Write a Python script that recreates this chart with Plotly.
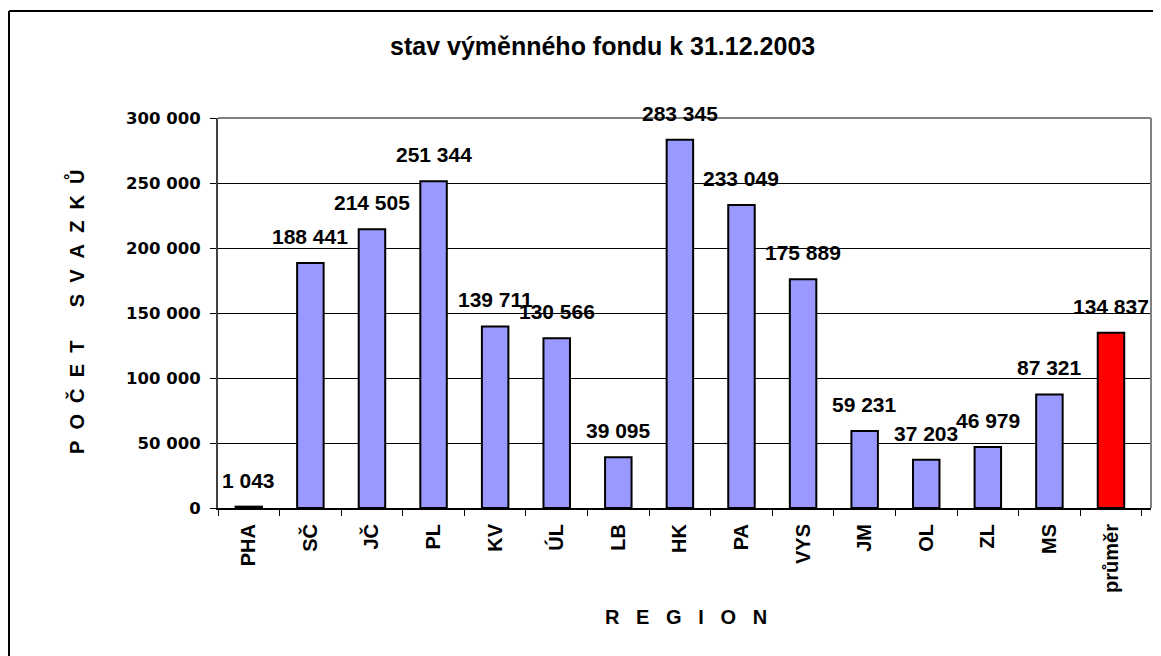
import plotly.graph_objects as go

categories = ["PHA", "SČ", "JČ", "PL", "KV", "ÚL", "LB", "HK", "PA", "VYS", "JM", "OL", "ZL", "MS", "průměr"]
values = [1043, 188441, 214505, 251344, 139711, 130566, 39095, 283345, 233049, 175889, 59231, 37203, 46979, 87321, 134837]
highlight = "průměr"
title_text = "stav výměnného fondu k 31.12.2003"
y_ticks = [0, 50000, 100000, 150000, 200000, 250000, 300000]

# the page body adds an 8px margin, so the figure is drawn 8px smaller and shifted
OFF = 8
W, H = 1161 - OFF, 656 - OFF
L, R, T, B = 218 - OFF, 1151 - OFF, 118 - OFF, 508 - OFF  # plot area in figure pixels

def fmt(v):
    return f"{v:,}".replace(",", " ")

def spaced(s, gap, wordgap):
    words = s.split(" ")
    return ("\u00a0" * wordgap).join(("\u00a0" * gap).join(w) for w in words)

colors = ["#FF0000" if c == highlight else "#9999FF" for c in categories]

fig = go.Figure()
fig.add_trace(go.Bar(
    x=categories, y=values,
    marker=dict(color=colors, line=dict(color="#000000", width=2)),
    showlegend=False, hoverinfo="x+y",
))

for c, v in zip(categories, values):
    fig.add_annotation(
        x=c, y=v, xref="x", yref="y", text=fmt(v), showarrow=False,
        yanchor="bottom", yshift=13,
        font=dict(family="Liberation Sans, Arial", size=21, color="#000000", weight="bold"),
    )

def px_x(p):
    # p in page pixels
    return (p - OFF - L) / (R - L)

def px_y(p):
    return (B - (p - OFF)) / (B - T)

# outer chart border (left and top visible)
fig.add_shape(type="line", xref="paper", yref="paper",
              x0=px_x(9), x1=px_x(9), y0=px_y(11), y1=px_y(700),
              line=dict(color="#000000", width=2))
fig.add_shape(type="line", xref="paper", yref="paper",
              x0=px_x(9), x1=px_x(1157), y0=px_y(11), y1=px_y(11),
              line=dict(color="#000000", width=2))
# plot area border top/right (grey)
fig.add_shape(type="line", xref="paper", yref="paper",
              x0=0, x1=1, y0=1, y1=1, line=dict(color="#808080", width=2))
fig.add_shape(type="line", xref="paper", yref="paper",
              x0=1, x1=1, y0=0, y1=1, line=dict(color="#808080", width=2))

# title
fig.add_annotation(
    text=title_text, xref="paper", yref="paper",
    x=px_x(602), y=px_y(46), xanchor="center", yanchor="middle", showarrow=False,
    font=dict(family="Liberation Sans, Arial", size=25, color="#000000", weight="bold"),
)
# axis titles
fig.add_annotation(
    text=spaced("REGION", 3, 6), xref="paper", yref="paper",
    x=px_x(686), y=px_y(617), xanchor="center", yanchor="middle", showarrow=False,
    font=dict(family="Liberation Sans, Arial", size=20, color="#000000", weight="bold"),
)
fig.add_annotation(
    text=spaced("POČET SVAZKŮ", 2, 6), xref="paper", yref="paper",
    x=px_x(75), y=px_y(312), xanchor="center", yanchor="middle", showarrow=False,
    textangle=-90,
    font=dict(family="Liberation Sans, Arial", size=20, color="#000000", weight="bold"),
)

fig.update_layout(
    width=W, height=H,
    margin=dict(l=L, r=W - R, t=T, b=H - B, pad=0),
    paper_bgcolor="#FFFFFF", plot_bgcolor="#FFFFFF",
    separators=", ",
    bargap=0.57,
    xaxis=dict(
        type="category", tickson="boundaries", ticks="outside", ticklen=6,
        tickcolor="#000000", tickwidth=1, tickangle=-90, ticklabelstandoff=6,
        showline=True, linecolor="#000000", linewidth=2, showgrid=False,
        tickfont=dict(family="Liberation Sans, Arial", size=20, color="#000000", weight="bold"),
    ),
    yaxis=dict(
        range=[0, 300000], tickvals=y_ticks, tickformat=",d",
        ticks="outside", ticklen=6, tickcolor="#000000", tickwidth=1, ticklabelstandoff=6,
        showline=True, linecolor="#404040", linewidth=2,
        showgrid=True, gridcolor="#000000", gridwidth=1, zeroline=False,
        tickfont=dict(family="DejaVu Sans", size=16.5, color="#000000", weight="bold"),
    ),
)

fig.write_html("out.html")
